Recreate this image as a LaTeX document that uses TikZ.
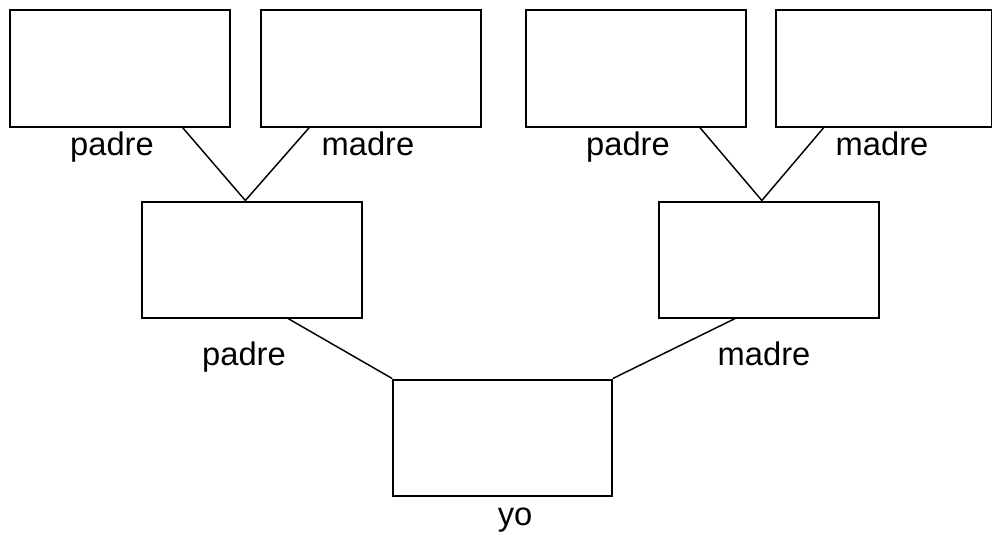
\documentclass[tikz,border=0pt]{standalone}
\usepackage{fontspec}
\setmainfont{Liberation Sans}
\usepackage{tikz}

\begin{document}
\begin{tikzpicture}[x=.75pt, y=-.75pt]
			\tikzset{
				person/.style={draw, line width=1.5pt, minimum width=165pt, minimum height=87pt, inner sep=0pt},
				rel/.style={line width=1.1pt},
				tag/.style={font=\fontsize{24.5}{28}\selectfont, inner sep=0pt, anchor=base}
			}
			\useasboundingbox (0,0) rectangle (992,535);

			% grandparents
			\node[person] (pp) at (119.5,68.5) {};
			\node[person] (pm) at (371,68.5) {};
			\node[person] (mp) at (635.5,68.5) {};
			\node[person, minimum width=162pt] (mm) at (883.5,68.5) {};

			% parents and me
			\node[person] (p) at (252,259.5) {};
			\node[person] (m) at (768.5,259.5) {};
			\node[person, minimum width=164pt] (yo) at (502.5,437.5) {};

			% labels
			\node[tag] (tpp) at (112,155) {padre};
			\node[tag] (tpm) at (368,155) {madre};
			\node[tag] (tmp) at (628,155) {padre};
			\node[tag] (tmm) at (882,155) {madre};
			\node[tag] (tp) at (244,365) {padre};
			\node[tag] (tm) at (764,365) {madre};
			\node[tag] (tyo) at (515,525) {yo};

			% lines
			\draw[rel] ([xshift=-36pt]pp.south east) -- ([xshift=-5pt]p.north);
			\draw[rel] ([xshift=37pt]pm.south west) -- ([xshift=-5pt]p.north);
			\draw[rel] ([xshift=-35pt]mp.south east) -- ([xshift=-5pt]m.north);
			\draw[rel] ([xshift=37pt]mm.south west) -- ([xshift=-5pt]m.north);
			\draw[rel] ([xshift=27pt]p.south) -- (yo.north west);
			\draw[rel] ([xshift=-25pt]m.south) -- (yo.north east);
		\end{tikzpicture}
\end{document}
